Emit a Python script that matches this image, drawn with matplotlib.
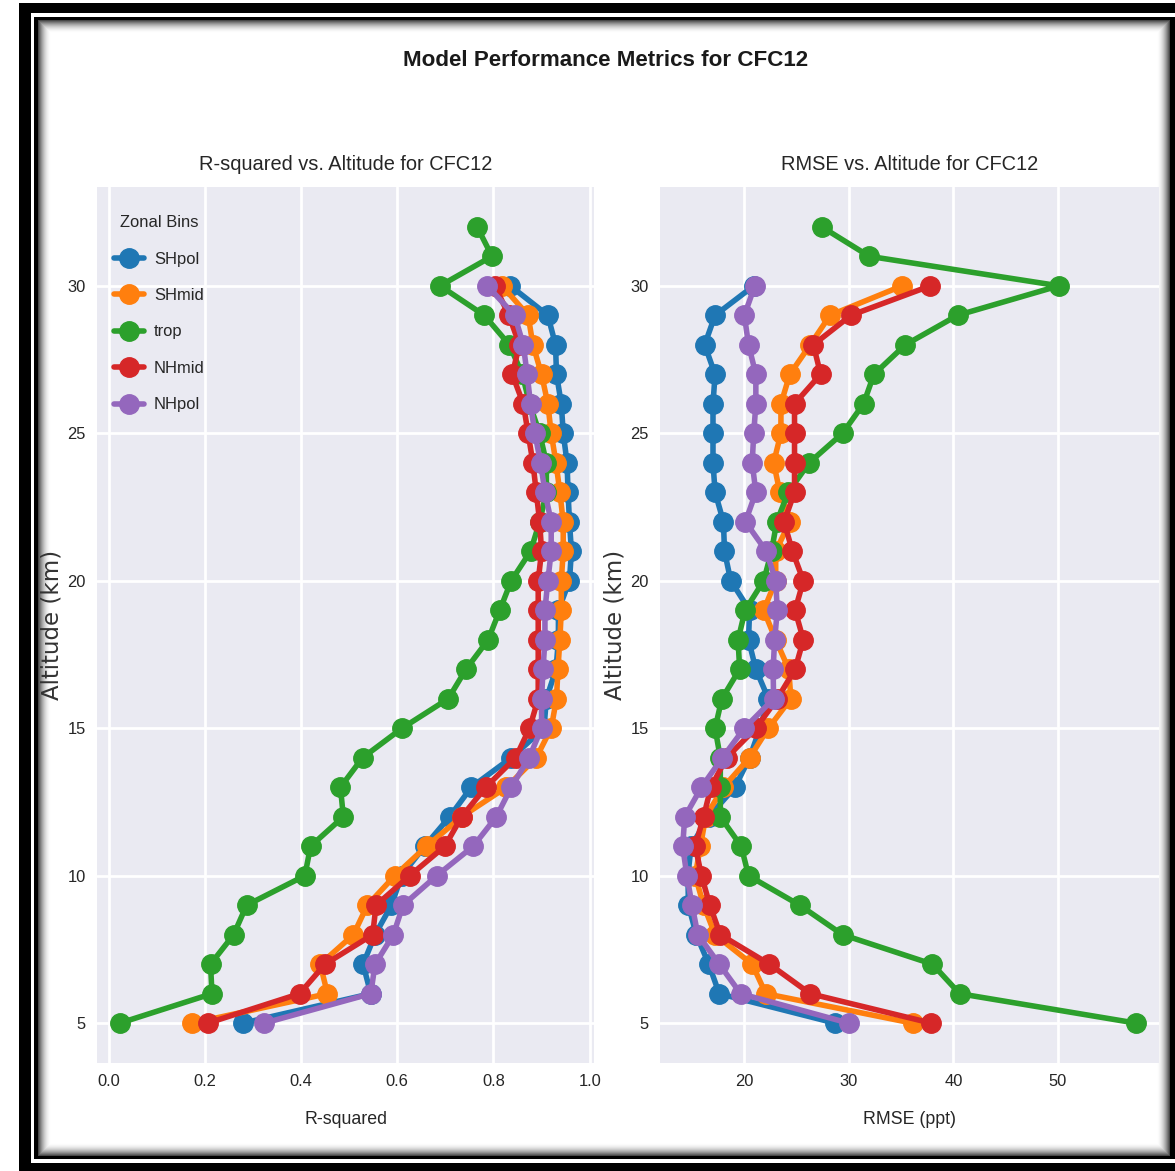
"""Zonal R-squared and RMSE profiles against altitude for CFC12."""
import matplotlib
matplotlib.use('Agg')
import matplotlib.pyplot as plt
from matplotlib import font_manager
from matplotlib.patches import Rectangle

# Altitude levels (km)
alt_std = list(range(5, 31))
alt_trop = list(range(5, 33))

zones = ['SHpol', 'SHmid', 'trop', 'NHmid', 'NHpol']

# R-squared per zonal bin, from 5 km upward
r2_shpol = [0.279, 0.545, 0.529, 0.554, 0.588, 0.609, 0.657, 0.709, 0.754, 0.837, 0.905, 0.910, 0.930,
            0.935, 0.935, 0.958, 0.962, 0.958, 0.955, 0.953, 0.945, 0.941, 0.931, 0.929, 0.913, 0.835]
r2_shmid = [0.174, 0.455, 0.440, 0.509, 0.538, 0.595, 0.661, 0.734, 0.827, 0.889, 0.920, 0.931, 0.934,
            0.938, 0.941, 0.941, 0.945, 0.945, 0.938, 0.930, 0.920, 0.913, 0.900, 0.882, 0.872, 0.818]
r2_trop = [0.023, 0.215, 0.212, 0.260, 0.287, 0.408, 0.420, 0.488, 0.482, 0.528, 0.610, 0.706, 0.743,
           0.789, 0.813, 0.837, 0.877, 0.896, 0.910, 0.910, 0.896, 0.875, 0.860, 0.833, 0.781, 0.689,
           0.797, 0.766]
r2_nhmid = [0.206, 0.397, 0.450, 0.549, 0.556, 0.626, 0.699, 0.734, 0.784, 0.846, 0.875, 0.893, 0.893,
            0.893, 0.893, 0.893, 0.900, 0.896, 0.889, 0.882, 0.872, 0.862, 0.839, 0.854, 0.832, 0.803]
r2_nhpol = [0.323, 0.545, 0.554, 0.592, 0.612, 0.682, 0.758, 0.806, 0.837, 0.874, 0.900, 0.900, 0.903,
            0.907, 0.907, 0.913, 0.920, 0.920, 0.907, 0.898, 0.886, 0.877, 0.870, 0.862, 0.844, 0.787]

# RMSE (ppt) per zonal bin, from 5 km upward
rmse_shpol = [28.7, 17.6, 16.6, 15.4, 14.65, 14.6, 14.9, 16.6, 19.1, 20.5, 21.5, 22.3, 21.1,
              20.4, 20.5, 18.7, 18.1, 18.0, 17.2, 17.0, 17.0, 17.0, 17.2, 16.2, 17.2, 20.9]
rmse_shmid = [36.1, 22.05, 20.75, 17.2, 16.1, 15.3, 15.8, 16.3, 18.0, 20.5, 22.3, 24.45, 24.25,
              23.0, 21.85, 23.0, 23.0, 24.35, 23.4, 22.8, 23.5, 23.5, 24.35, 26.3, 28.2, 35.1]
rmse_trop = [57.5, 40.6, 38.0, 29.4, 25.3, 20.4, 19.7, 17.7, 17.7, 17.7, 17.2, 17.85, 19.55,
             19.4, 20.07, 21.85, 22.6, 23.1, 24.2, 26.2, 29.4, 31.4, 32.4, 35.4, 40.4, 50.1,
             31.95, 27.4]
rmse_nhmid = [37.9, 26.3, 22.4, 17.7, 16.7, 15.9, 15.3, 16.1, 16.8, 18.3, 21.1, 23.15, 24.85,
              25.65, 24.85, 25.65, 24.6, 23.8, 24.8, 24.8, 24.8, 24.8, 27.3, 26.6, 30.2, 37.8]
rmse_nhpol = [30.0, 19.65, 17.6, 15.55, 15.0, 14.5, 14.1, 14.3, 15.9, 17.9, 20.0, 22.8, 22.75,
              22.9, 23.15, 23.0, 22.1, 20.1, 21.1, 20.75, 20.9, 21.1, 21.1, 20.4, 20.0, 21.0]

altitudes = [alt_std, alt_std, alt_trop, alt_std, alt_std]
r2_values = [r2_shpol, r2_shmid, r2_trop, r2_nhmid, r2_nhpol]
rmse_values = [rmse_shpol, rmse_shmid, rmse_trop, rmse_nhmid, rmse_nhpol]

plt.style.use('seaborn-v0_8-darkgrid')
installed = {f.name for f in font_manager.fontManager.ttflist}
if 'Liberation Sans Narrow' in installed:
    main_font, fs = 'Liberation Sans Narrow', 1.0
else:
    main_font, fs = 'Liberation Sans', 0.85
plt.rcParams['font.family'] = [main_font, 'DejaVu Sans']

W, H = 1175, 1171
fig = plt.figure(figsize=(W / 100, H / 100), dpi=100, facecolor='white')


def px_rect(x0, y0, x1, y1, color, z):
    """Filled rectangle given in pixel coordinates from the top-left corner."""
    fig.add_artist(Rectangle((x0 / W, 1 - y1 / H), (x1 - x0) / W, (y1 - y0) / H,
                             transform=fig.transFigure, facecolor=color,
                             edgecolor='none', zorder=z))


# Double black frame with a soft inner shadow
px_rect(19, 3, W, H, 'black', -40)
px_rect(31, 13, W, 1163, 'white', -39)
px_rect(34, 17, W, 1159, 'black', -38)
n_shade = 13
for i in range(n_shade + 1):
    g = 1 - 0.72 * (1 - i / n_shade) ** 2
    px_rect(38 + i, 20 + i, 1170 - i, 1156 - i, str(round(g, 3)), -37 + i)

ax1 = fig.add_axes([97 / W, 1 - 1063 / H, (594 - 97) / W, (1063 - 187) / H])
ax2 = fig.add_axes([660 / W, 1 - 1063 / H, (1159 - 660) / W, (1063 - 187) / H])

for zone, alts, r2, rmse in zip(zones, altitudes, r2_values, rmse_values):
    ax1.plot(r2, alts, marker='o', ms=14, lw=4, label=zone)
    ax2.plot(rmse, alts, marker='o', ms=14, lw=4, label=zone)

text_color = '0.15'
for ax, title, xlabel in [(ax1, 'R-squared vs. Altitude for CFC12', 'R-squared'),
                          (ax2, 'RMSE vs. Altitude for CFC12', 'RMSE (ppt)')]:
    ax.set_title(title, fontsize=17 * fs, pad=12, color=text_color)
    ax.set_xlabel(xlabel, fontsize=15 * fs, labelpad=16, color=text_color)
    ax.set_ylabel('Altitude (km)', family='DejaVu Sans', fontsize=16.5, labelpad=3,
                  color='0.2')
    ax.tick_params(labelsize=14 * fs, pad=8, colors=text_color)
    ax.grid(True, color='white', lw=2)
    ax.set_yticks([5, 10, 15, 20, 25, 30])

ax1.legend(title='Zonal Bins', loc='upper left', bbox_to_anchor=(0.005, 0.985),
           fontsize=14 * fs, title_fontsize=14 * fs, handlelength=1.8, handletextpad=0.6,
           labelspacing=1.3, frameon=False)

fig.text(0.515, 1 - 60 / H, 'Model Performance Metrics for CFC12', fontsize=19 * fs,
         fontweight='bold', ha='center', va='center', color='0.1')

fig.savefig('out.png', dpi=100, facecolor='white')
